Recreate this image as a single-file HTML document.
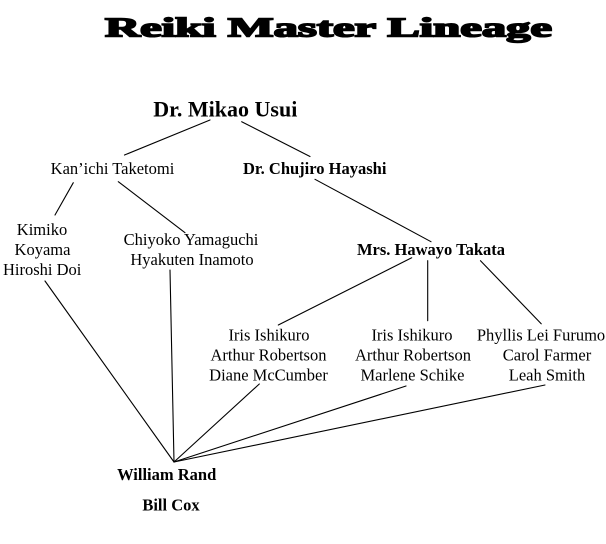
<!DOCTYPE html>
<html>
<head>
<meta charset="utf-8">
<style>
  html, body { margin: 0; padding: 0; background: #fff; }
  body { width: 606px; height: 544px; overflow: hidden; }
  svg { display: block; }
  text { font-family: "Liberation Serif", "Times New Roman", serif; fill: #000; }
  .n { font-size: 16.5px; text-anchor: middle; }
  .b { font-size: 16.5px; font-weight: bold; text-anchor: middle; }
</style>
</head>
<body>
<svg width="606" height="544" viewBox="0 0 606 544" xmlns="http://www.w3.org/2000/svg">
  <!-- Title -->
  <text x="105" y="36.5" style="font-size:27px;font-weight:900" stroke="#000" stroke-width="1.6" textLength="447" lengthAdjust="spacingAndGlyphs">Reiki Master Lineage</text>

  <!-- Connectors -->
  <g stroke="#000" stroke-width="1.1" fill="none" stroke-linecap="round">
    <line x1="210" y1="120" x2="124.5" y2="155"/>
    <line x1="241.7" y1="121.7" x2="310" y2="156.5"/>
    <line x1="73.3" y1="182.7" x2="55" y2="215"/>
    <line x1="118.3" y1="181.7" x2="185" y2="232.7"/>
    <line x1="315" y1="179.3" x2="431" y2="241.7"/>
    <line x1="411.7" y1="257.8" x2="278.3" y2="325"/>
    <line x1="427.7" y1="260.7" x2="427.7" y2="320.7"/>
    <line x1="480.5" y1="260.7" x2="541.2" y2="323.8"/>
    <line x1="45" y1="281" x2="174" y2="462"/>
    <line x1="170" y1="270" x2="174" y2="462"/>
    <line x1="259.3" y1="384" x2="174" y2="462"/>
    <line x1="406" y1="386" x2="174" y2="462"/>
    <line x1="545" y1="385" x2="174" y2="462"/>
  </g>

  <!-- Nodes -->
  <text x="225.3" y="116.5" style="font-size:22px;font-weight:bold;text-anchor:middle">Dr. Mikao Usui</text>

  <text class="n" x="112.5" y="174">Kan’ichi Taketomi</text>
  <text class="b" x="314.7" y="174">Dr. Chujiro Hayashi</text>

  <text class="n" x="42" y="235">Kimiko</text>
  <text class="n" x="42.5" y="255">Koyama</text>
  <text class="n" x="42.2" y="275">Hiroshi Doi</text>

  <text class="n" x="191" y="245">Chiyoko Yamaguchi</text>
  <text class="n" x="192" y="265">Hyakuten Inamoto</text>

  <text class="b" x="431" y="255">Mrs. Hawayo Takata</text>

  <text class="n" x="269" y="340.7">Iris Ishikuro</text>
  <text class="n" x="268.5" y="360.7">Arthur Robertson</text>
  <text class="n" x="268.5" y="380.7">Diane McCumber</text>

  <text class="n" x="412" y="340.7">Iris Ishikuro</text>
  <text class="n" x="413" y="360.7">Arthur Robertson</text>
  <text class="n" x="412.5" y="380.7">Marlene Schike</text>

  <text class="n" x="541" y="340.7">Phyllis Lei Furumo</text>
  <text class="n" x="547" y="360.7">Carol Farmer</text>
  <text class="n" x="547" y="380.7">Leah Smith</text>

  <text class="b" x="166.7" y="480">William Rand</text>
  <text class="b" x="171" y="510.7">Bill Cox</text>
</svg>
</body>
</html>
